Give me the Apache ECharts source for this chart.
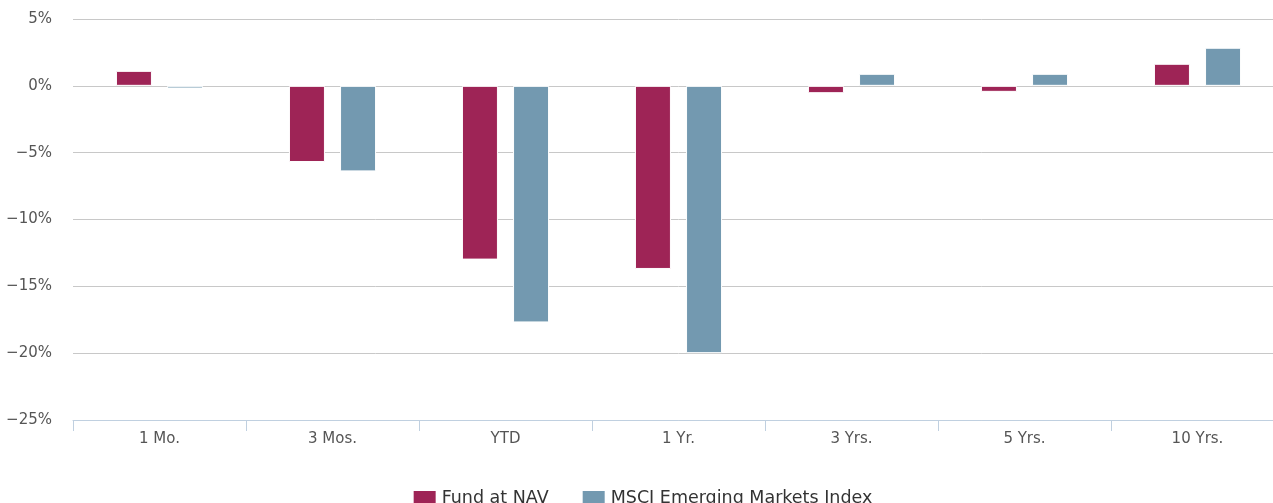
<!DOCTYPE html>
<html><head><meta charset="utf-8">
<script src="https://cdn.jsdelivr.net/npm/echarts@6/dist/echarts.min.js"></script>
<style>html,body{margin:0;padding:0;background:#fff;overflow:hidden}#c{width:1284px;height:503px}</style>
</head><body><div id="c"></div>
<script>
const categories = ['1 Mo.', '3 Mos.', 'YTD', '1 Yr.', '3 Yrs.', '5 Yrs.', '10 Yrs.'];
const fundValues = [1.12, -5.7, -13.0, -13.7, -0.55, -0.45, 1.65];
const indexValues = [-0.2, -6.4, -17.7, -20.0, 0.9, 0.9, 2.85];
const yTicks = [-25, -20, -15, -10, -5, 0, 5];

const chart = echarts.init(document.getElementById('c'));
chart.setOption({
  animation: false,
  grid: { left: 73, top: 19, right: 0, bottom: 83, containLabel: false },
  legend: {
    bottom: -9, left: 'center', itemWidth: 24, itemHeight: 16, itemGap: 32,
    icon: 'rect',
    textStyle: { fontFamily: 'DejaVu Sans', fontSize: 17.5, color: '#333' },
    data: ['Fund at NAV', 'MSCI Emerging Markets Index']
  },
  xAxis: {
    type: 'category', data: categories, position: 'bottom',
    axisLine: { onZero: false, lineStyle: { color: '#c0d0e0' } },
    axisTick: { show: true, length: 11, lineStyle: { color: '#c0d0e0' } },
    axisLabel: { fontFamily: 'DejaVu Sans', fontSize: 15, color: '#555', margin: 12 },
    splitLine: { show: false }
  },
  yAxis: {
    type: 'value', min: yTicks[0], max: yTicks[yTicks.length - 1], interval: 5,
    axisLine: { show: false }, axisTick: { show: false },
    axisLabel: { formatter: v => (v < 0 ? '\u2212' + Math.abs(v) : v) + '%', fontFamily: 'DejaVu Sans', fontSize: 15, color: '#555', margin: 21 },
    splitLine: { lineStyle: { color: '#c8c8c8' } }
  },
  series: [
    { name: 'Fund at NAV', type: 'bar', data: fundValues, barWidth: 36, barGap: '42%',
      itemStyle: { color: '#9e2456', borderColor: '#fff', borderWidth: 1 } },
    { name: 'MSCI Emerging Markets Index', type: 'bar', data: indexValues, barWidth: 36,
      itemStyle: { color: '#7399b0', borderColor: '#fff', borderWidth: 1 } }
  ]
});
</script></body></html>
